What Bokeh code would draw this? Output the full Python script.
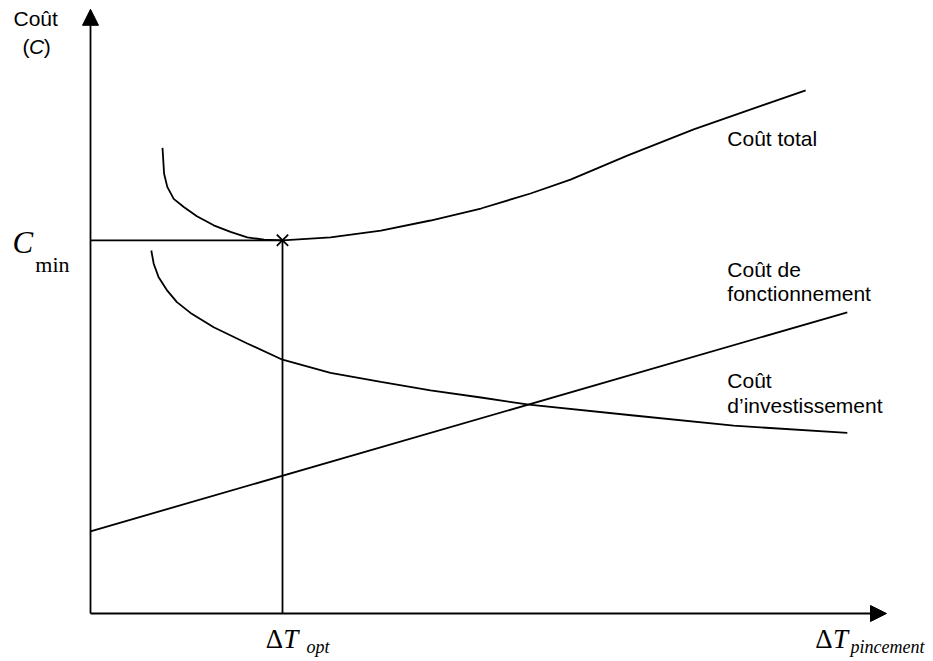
from bokeh.plotting import figure
from bokeh.models import Range1d, Arrow, NormalHead
from bokeh.core.properties import value
from bokeh.embed import file_html
from bokeh.resources import INLINE

# ---- data (arbitrary units: ΔT on x, cost on y) ----
total_x = [0.90, 0.92, 0.96, 1.04, 1.17, 1.33, 1.54, 1.75, 1.96, 2.17, 2.40,
           3.00, 3.63, 4.25, 4.88, 5.50, 6.00, 6.71, 7.54, 8.38, 8.94]
total_y = [7.76, 7.33, 7.11, 6.91, 6.77, 6.62, 6.47, 6.36, 6.27, 6.23, 6.22,
           6.27, 6.38, 6.55, 6.75, 7.00, 7.23, 7.63, 8.07, 8.46, 8.72]

invest_x = [0.76, 0.79, 0.85, 0.96, 1.08, 1.25, 1.54, 1.96, 2.40, 3.00, 3.63,
            4.25, 4.88, 5.48, 6.79, 8.04, 9.46]
invest_y = [6.05, 5.83, 5.61, 5.38, 5.19, 5.01, 4.77, 4.50, 4.23, 4.01, 3.86,
            3.72, 3.60, 3.48, 3.30, 3.13, 3.01]

oper_x = [0.0, 9.46]
oper_y = [1.37, 5.02]

opt_x = 2.40
c_min = 6.22
x_axis_end = 9.95
y_axis_end = 10.07

curve_labels = [["Coût total"], ["Coût de", "fonctionnement"], ["Coût", "d’investissement"]]
curve_label_x = 7.96
curve_label_y = [[7.92], [5.74, 5.33], [3.89, 3.46]]

SANS = "Liberation Sans"
SERIF = "Liberation Serif"
LW = 1.8

p = figure(width=933, height=661,
           x_range=Range1d(-1.125, 10.5375), y_range=Range1d(-0.8, 10.2167),
           output_backend="svg", toolbar_location=None, min_border=0,
           x_axis_location=None, y_axis_location=None)
p.grid.visible = False
p.outline_line_color = None
p.background_fill_color = "white"

# axes as arrows
p.add_layout(Arrow(end=NormalHead(size=16, fill_color="black", line_color="black", line_width=1),
                   x_start=0, y_start=0, x_end=0, y_end=y_axis_end, line_width=LW, line_color="black"))
p.add_layout(Arrow(end=NormalHead(size=16, fill_color="black", line_color="black", line_width=1),
                   x_start=0, y_start=0, x_end=x_axis_end, y_end=0, line_width=LW, line_color="black"))

# curves
p.line(total_x, total_y, line_color="black", line_width=LW)
p.line(invest_x, invest_y, line_color="black", line_width=LW)
p.line(oper_x, oper_y, line_color="black", line_width=LW)

# optimum guides
p.line([0, opt_x], [c_min, c_min], line_color="black", line_width=LW)
p.line([opt_x, opt_x], [0, c_min], line_color="black", line_width=LW)
p.scatter([opt_x], [c_min], marker="x", size=16, line_color="black", line_width=LW)

# curve labels
for lines, ys in zip(curve_labels, curve_label_y):
    p.text([curve_label_x] * len(lines), ys, text=lines, text_font=value(SANS),
           text_font_size="21px", text_baseline="alphabetic", text_align="left", text_color="black")

# y-axis title
p.text([-0.9625], [9.92], text=["Coût"], text_font=value(SANS), text_font_size="21px",
       text_baseline="alphabetic", text_color="black")
p.text([-0.85], [9.45], text=["("], text_font=value(SANS), text_font_size="21px",
       text_baseline="alphabetic", text_color="black")
p.text([-0.77], [9.45], text=["C"], text_font=value(SANS), text_font_size="21px",
       text_font_style="italic", text_baseline="alphabetic", text_color="black")
p.text([-0.585], [9.45], text=[")"], text_font=value(SANS), text_font_size="21px",
       text_baseline="alphabetic", text_color="black")

# C_min
p.text([-0.975], [6.19], text=["C"], text_font=value(SERIF), text_font_size="31px",
       text_font_style="italic", text_baseline="alphabetic", text_color="black")
p.text([-0.69], [5.82], text=["min"], text_font=value(SERIF), text_font_size="22px",
       text_baseline="alphabetic", text_color="black")

# ΔT_opt
p.text([2.19], [-0.42], text=["Δ"], text_font=value(SERIF), text_font_size="27px",
       text_baseline="alphabetic", text_color="black")
p.text([2.41], [-0.42], text=["T"], text_font=value(SERIF), text_font_size="27px",
       text_font_style="italic", text_baseline="alphabetic", text_color="black")
p.text([2.70], [-0.56], text=["opt"], text_font=value(SERIF), text_font_size="18px",
       text_font_style="italic", text_baseline="alphabetic", text_color="black")

# ΔT_pincement
p.text([9.06], [-0.42], text=["Δ"], text_font=value(SERIF), text_font_size="27px",
       text_baseline="alphabetic", text_color="black")
p.text([9.28], [-0.42], text=["T"], text_font=value(SERIF), text_font_size="27px",
       text_font_style="italic", text_baseline="alphabetic", text_color="black")
p.text([9.50], [-0.56], text=["pincement"], text_font=value(SERIF), text_font_size="18px",
       text_font_style="italic", text_baseline="alphabetic", text_color="black")

open("out.html", "w").write(file_html(p, INLINE))
